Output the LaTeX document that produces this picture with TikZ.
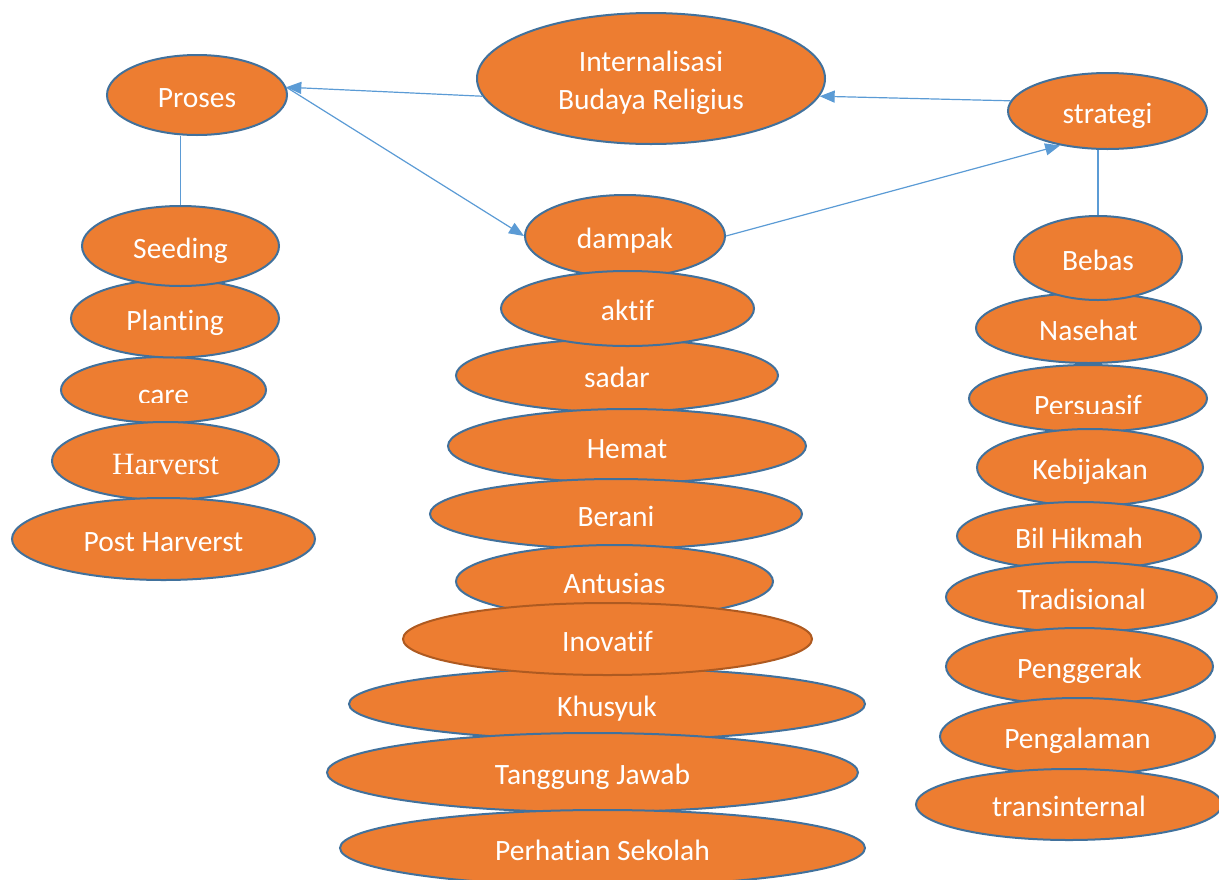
\documentclass[tikz,border=0pt]{standalone}
\usepackage{fontspec}
\setmainfont{Carlito}[Ligatures=NoCommon]
\newfontfamily\serifface{Liberation Serif}
\usepackage{xcolor}
\usetikzlibrary{shapes.geometric,arrows.meta}

\definecolor{bubfill}{HTML}{ED7D31}
\definecolor{bubline}{HTML}{41719C}
\definecolor{inoline}{HTML}{AE5A21}
\definecolor{linkblue}{HTML}{5B9BD5}

\begin{document}
\begin{tikzpicture}[x=1pt, y=-1pt, >={Triangle[length=15pt,width=12pt]},
    bub/.style={ellipse, draw=bubline, fill=bubfill, line width=2pt,
                text=white, inner sep=0pt, text height=24pt, text depth=0pt,
                font=\fontsize{29.5}{38}\selectfont},
    sz/.style 2 args={minimum width=#1pt, minimum height=#2pt},
    lbl/.style={text=white, inner sep=0pt, font=\fontsize{29.5}{36}\selectfont},
    link/.style={draw=linkblue, line width=1.2pt}]

  \clip (0,0) rectangle (1219,879);

  % top row
  \node[bub, sz={348}{131}, align=center, text height=62pt] (intern) at (651,78.5) {Internalisasi\\Budaya Religius};
  \node[bub, sz={180}{80}] (proses) at (197,95) {Proses};
  \node[bub, sz={199}{76}] (strategi) at (1107.5,111) {strategi};
  \node[bub, sz={200}{82}] (dampak) at (625,236) {dampak};

  % proses column
  \node[bub, sz={205}{66}] (care) at (163.5,390) {};
  \begin{scope}
    \clip (40,360) rectangle (290,402);
    \node[lbl, anchor=base] (carelbl) at (163.5,404) {care};
  \end{scope}
  \node[bub, sz={208}{78}] (planting) at (175,318.5) {Planting};
  \node[bub, sz={197}{80}] (seeding) at (180.5,246) {Seeding};
  \node[bub, sz={227}{78}, text height=26pt, font=\serifface\fontsize{31}{36}\selectfont] (harverst) at (165.5,461) {Harverst};
  \node[bub, sz={303}{82}] (postharv) at (163.5,539) {Post Harverst};

  % dampak column
  \node[bub, sz={322}{73}] (sadar) at (617,375.5) {sadar};
  \node[bub, sz={253}{75}] (aktif) at (627.5,308.5) {aktif};
  \node[bub, sz={358}{74}] (hemat) at (627,446) {Hemat};
  \node[bub, sz={372}{70}] (berani) at (616,514) {Berani};
  \node[bub, sz={317}{73}] (antusias) at (614.5,581.5) {Antusias};
  \node[bub, sz={516}{72}] (khusyuk) at (607,704) {Khusyuk};
  \node[bub, sz={409}{72}, draw=inoline] (inovatif) at (607.5,639) {Inovatif};
  \node[bub, sz={531}{79}] (tanggung) at (592.5,772.5) {Tanggung Jawab};
  \node[bub, sz={525}{76}] (perhatian) at (602.5,848) {Perhatian Sekolah};

  % strategi column
  \node[bub, sz={225}{70}] (nasehat) at (1088.5,328) {Nasehat};
  \node[bub, sz={168}{84}] (bebas) at (1098,258) {Bebas};
  \node[bub, sz={238}{67}] (persuasif) at (1088,398.5) {};
  \begin{scope}
    \clip (960,370) rectangle (1215,413);
    \node[lbl, anchor=base] (persuasiflbl) at (1088,415) {Persuasif};
  \end{scope}
  \node[bub, sz={226}{77}] (kebijakan) at (1090,467.5) {Kebijakan};
  \node[bub, sz={244}{68}] (bilhikmah) at (1079,536) {Bil Hikmah};
  \node[bub, sz={271}{70}] (tradisional) at (1081.5,597) {Tradisional};
  \node[bub, sz={267}{77}] (penggerak) at (1079.5,666.5) {Penggerak};
  \node[bub, sz={275}{77}] (pengalaman) at (1077.5,736.5) {Pengalaman};
  \node[bub, sz={306}{71}] (transint) at (1069,804.5) {transinternal};

  % connectors
  \draw[link, ->] (intern.186) -- (proses.5);
  \draw[link, ->] (proses.5) -- (dampak.west);
  \draw[link, ->] (strategi.174) -- (intern.354);
  \draw[link, ->] (dampak.east) -- (strategi.216);
  \draw[link] (proses.south -| seeding.north) -- (seeding.north);
  \draw[link] (strategi.south -| bebas.north) -- (bebas.north);
\end{tikzpicture}
\end{document}
